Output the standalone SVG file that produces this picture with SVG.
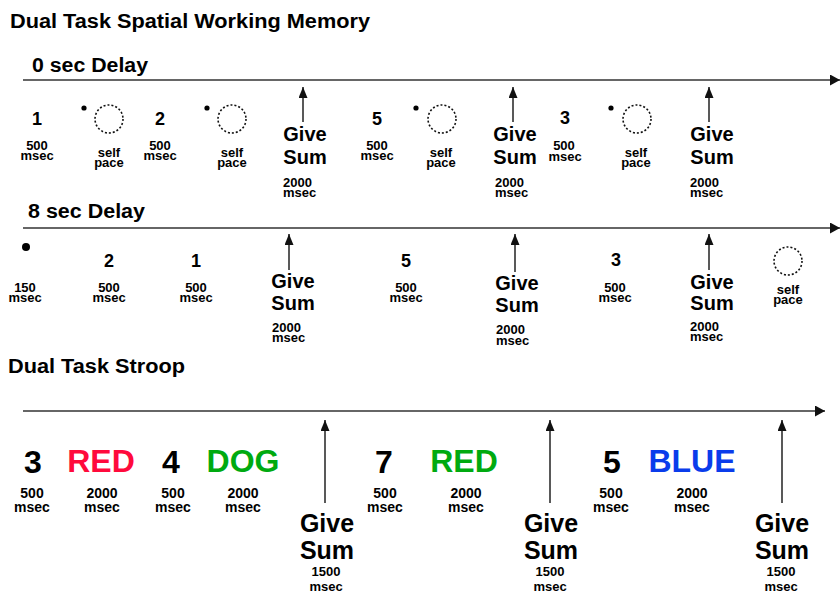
<svg xmlns="http://www.w3.org/2000/svg" width="840" height="593" viewBox="0 0 840 593">
<style>
text{font-family:"Liberation Sans",Arial,sans-serif;font-weight:bold;fill:#000;text-anchor:middle}
.title{font-size:20px;text-anchor:start}
.num{font-size:18px}
.give{font-size:20px}
.sm{font-size:13px}
.smL{font-size:13px;text-anchor:start}
.snum{font-size:32px}
.sgive{font-size:25px}
.ssm{font-size:14px}
.line{stroke:#333;stroke-width:1.6;fill:none}
.arr{stroke:#222;stroke-width:1.5;fill:none}
.circ{stroke:#111;stroke-width:1.6;fill:none;stroke-dasharray:2 2}
.dot{fill:#000}
</style>
<defs>
<marker id="head" viewBox="0 0 10 10" refX="10" refY="5" markerWidth="10" markerHeight="11" markerUnits="userSpaceOnUse" orient="auto" preserveAspectRatio="none"><path d="M0,0 L10,5 L0,10 z" fill="#111"/></marker>
<marker id="up" viewBox="0 0 10 10" refX="10" refY="5" markerWidth="11" markerHeight="9" markerUnits="userSpaceOnUse" orient="auto" preserveAspectRatio="none"><path d="M0,0 L10,5 L0,10 z" fill="#111"/></marker>
</defs>

<g id="titles">
<text class="title" x="10" y="28" textLength="360" lengthAdjust="spacingAndGlyphs">Dual Task Spatial Working Memory</text>
<text class="title" x="32" y="72" textLength="116" lengthAdjust="spacingAndGlyphs">0 sec Delay</text>
<text class="title" x="28" y="218" textLength="117" lengthAdjust="spacingAndGlyphs">8 sec Delay</text>
<text class="title" x="8" y="373" textLength="177" lengthAdjust="spacingAndGlyphs">Dual Task Stroop</text>
</g>

<g id="connectors">
<line class="line" x1="23" y1="80" x2="840" y2="80" marker-end="url(#head)"/>
<line class="line" x1="23" y1="228" x2="840" y2="228" marker-end="url(#head)"/>
<line class="line" x1="23" y1="411" x2="825" y2="411" marker-end="url(#head)"/>
<line class="arr" x1="303" y1="122" x2="303" y2="87" marker-end="url(#up)"/>
<line class="arr" x1="513" y1="122" x2="513" y2="87" marker-end="url(#up)"/>
<line class="arr" x1="709" y1="122" x2="709" y2="87" marker-end="url(#up)"/>
<line class="arr" x1="289" y1="270" x2="289" y2="234" marker-end="url(#up)"/>
<line class="arr" x1="515" y1="272" x2="515" y2="234" marker-end="url(#up)"/>
<line class="arr" x1="709" y1="270" x2="709" y2="234" marker-end="url(#up)"/>
<line class="arr" x1="325" y1="503" x2="325" y2="420" marker-end="url(#up)"/>
<line class="arr" x1="550" y1="503" x2="550" y2="420" marker-end="url(#up)"/>
<line class="arr" x1="782" y1="503" x2="782" y2="420" marker-end="url(#up)"/>
</g>

<!-- Row 1: 0 sec delay -->
<g id="r1-n1"><text class="num" x="37" y="125">1</text><text class="sm" x="37" y="150">500</text><text class="sm" x="37" y="160">msec</text></g>
<g id="r1-self1"><circle class="dot" cx="84" cy="108" r="2.6"/><circle class="circ" cx="109" cy="119" r="14"/><text class="sm" x="109" y="157">self</text><text class="sm" x="109" y="167">pace</text></g>
<g id="r1-n2"><text class="num" x="160" y="125">2</text><text class="sm" x="160" y="150">500</text><text class="sm" x="160" y="160">msec</text></g>
<g id="r1-self2"><circle class="dot" cx="207" cy="108" r="2.6"/><circle class="circ" cx="232" cy="119" r="14"/><text class="sm" x="232" y="157">self</text><text class="sm" x="232" y="167">pace</text></g>
<g id="r1-give1"><text class="give" x="305" y="141">Give</text><text class="give" x="305" y="164">Sum</text><text class="smL" x="283" y="187">2000</text><text class="smL" x="283" y="197">msec</text></g>
<g id="r1-n5"><text class="num" x="377" y="125">5</text><text class="sm" x="377" y="150">500</text><text class="sm" x="377" y="160">msec</text></g>
<g id="r1-self3"><circle class="dot" cx="416" cy="108" r="2.6"/><circle class="circ" cx="442" cy="119" r="14"/><text class="sm" x="441" y="157">self</text><text class="sm" x="441" y="167">pace</text></g>
<g id="r1-give2"><text class="give" x="515" y="141">Give</text><text class="give" x="515" y="164">Sum</text><text class="smL" x="495" y="187">2000</text><text class="smL" x="495" y="197">msec</text></g>
<g id="r1-n3"><text class="num" x="565" y="124">3</text><text class="sm" x="564" y="150">500</text><text class="sm" x="565" y="161">msec</text></g>
<g id="r1-self4"><circle class="dot" cx="611" cy="108" r="2.6"/><circle class="circ" cx="637" cy="119" r="14"/><text class="sm" x="636" y="157">self</text><text class="sm" x="636" y="167">pace</text></g>
<g id="r1-give3"><text class="give" x="712" y="141">Give</text><text class="give" x="712" y="164">Sum</text><text class="smL" x="690" y="187">2000</text><text class="smL" x="690" y="197">msec</text></g>

<!-- Row 2: 8 sec delay -->
<g id="r2-dot"><circle class="dot" cx="26" cy="247" r="4"/><text class="sm" x="25" y="292">150</text><text class="sm" x="25" y="302">msec</text></g>
<g id="r2-n2"><text class="num" x="109" y="267">2</text><text class="sm" x="109" y="292">500</text><text class="sm" x="109" y="302">msec</text></g>
<g id="r2-n1"><text class="num" x="196" y="267">1</text><text class="sm" x="196" y="292">500</text><text class="sm" x="196" y="302">msec</text></g>
<g id="r2-give1"><text class="give" x="293" y="288">Give</text><text class="give" x="293" y="310">Sum</text><text class="smL" x="272" y="332">2000</text><text class="smL" x="272" y="342">msec</text></g>
<g id="r2-n5"><text class="num" x="406" y="267">5</text><text class="sm" x="406" y="292">500</text><text class="sm" x="406" y="302">msec</text></g>
<g id="r2-give2"><text class="give" x="517" y="290">Give</text><text class="give" x="517" y="312">Sum</text><text class="smL" x="496" y="334">2000</text><text class="smL" x="496" y="345">msec</text></g>
<g id="r2-n3"><text class="num" x="616" y="266">3</text><text class="sm" x="615" y="292">500</text><text class="sm" x="615" y="302">msec</text></g>
<g id="r2-give3"><text class="give" x="712" y="289">Give</text><text class="give" x="712" y="310">Sum</text><text class="smL" x="690" y="331">2000</text><text class="smL" x="690" y="341">msec</text></g>
<g id="r2-self"><circle class="circ" cx="788" cy="261" r="14"/><text class="sm" x="788" y="294">self</text><text class="sm" x="788" y="304">pace</text></g>

<!-- Row 3: Stroop -->
<g id="s-n3"><text class="snum" x="33" y="473">3</text><text class="ssm" x="32" y="498">500</text><text class="ssm" x="32" y="512">msec</text></g>
<g id="s-red1"><text class="snum" x="101" y="472" style="fill:#ff0a3c">RED</text><text class="ssm" x="102" y="498">2000</text><text class="ssm" x="102" y="512">msec</text></g>
<g id="s-n4"><text class="snum" x="171" y="473">4</text><text class="ssm" x="173" y="498">500</text><text class="ssm" x="173" y="512">msec</text></g>
<g id="s-dog"><text class="snum" x="243" y="472" style="fill:#00aa10">DOG</text><text class="ssm" x="243" y="498">2000</text><text class="ssm" x="243" y="512">msec</text></g>
<g id="s-give1"><text class="sgive" x="327" y="532">Give</text><text class="sgive" x="327" y="559">Sum</text><text class="sm" x="326" y="576">1500</text><text class="sm" x="326" y="591">msec</text></g>
<g id="s-n7"><text class="snum" x="384" y="473">7</text><text class="ssm" x="385" y="498">500</text><text class="ssm" x="385" y="512">msec</text></g>
<g id="s-red2"><text class="snum" x="464" y="472" style="fill:#00aa10">RED</text><text class="ssm" x="466" y="498">2000</text><text class="ssm" x="466" y="512">msec</text></g>
<g id="s-give2"><text class="sgive" x="551" y="532">Give</text><text class="sgive" x="551" y="559">Sum</text><text class="sm" x="550" y="576">1500</text><text class="sm" x="550" y="591">msec</text></g>
<g id="s-n5"><text class="snum" x="612" y="473">5</text><text class="ssm" x="611" y="498">500</text><text class="ssm" x="611" y="512">msec</text></g>
<g id="s-blue"><text class="snum" x="692" y="472" style="fill:#0a3ceb">BLUE</text><text class="ssm" x="692" y="498">2000</text><text class="ssm" x="692" y="512">msec</text></g>
<g id="s-give3"><text class="sgive" x="782" y="532">Give</text><text class="sgive" x="782" y="559">Sum</text><text class="sm" x="781" y="576">1500</text><text class="sm" x="781" y="591">msec</text></g>
</svg>
